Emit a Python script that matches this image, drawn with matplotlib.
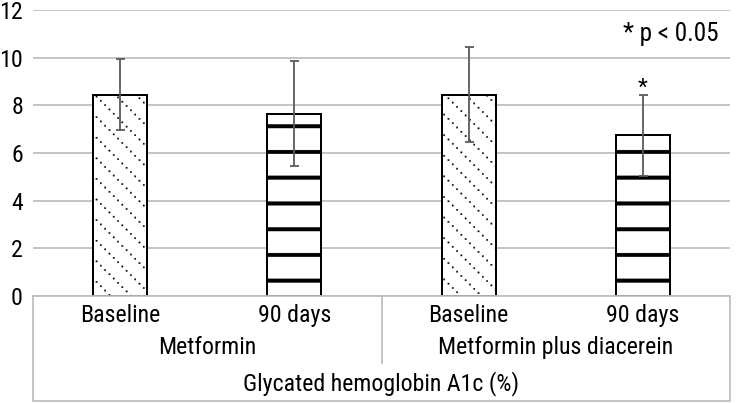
import numpy as np
import matplotlib
matplotlib.use("Agg")
import matplotlib.pyplot as plt
import matplotlib.hatch as mhatch
from matplotlib.path import Path
from matplotlib import font_manager

# ---------------- data ----------------
categories = ["Baseline", "90 days", "Baseline", "90 days"]
groups = ["Metformin", "Metformin plus diacerein"]
axis_title = "Glycated hemoglobin A1c (%)"
means = [8.45, 7.65, 8.45, 6.75]
sds = [1.5, 2.2, 2.0, 1.7]
significant = [False, False, False, True]
yticks = [0, 2, 4, 6, 8, 10, 12]
note = "* p < 0.05"

DPI = 103
def px(v):
    return v * 72.0 / DPI

# ---------------- custom hatch textures ----------------
class StripeHatch(mhatch.HatchPatternBase):
    n = 4
    h = 0.036
    y0 = 0.0248
    def __init__(self, hatch, density):
        self.on = hatch.count('-') > 0
        self.num_vertices = self.n * 5 if self.on else 0
    def set_vertices_and_codes(self, vertices, codes):
        for i in range(self.n):
            yc = self.y0 + i / self.n
            a, b = yc - self.h / 2, yc + self.h / 2
            vertices[i*5:(i+1)*5] = [[-0.1, a], [1.1, a], [1.1, b], [-0.1, b], [-0.1, a]]
            codes[i*5:(i+1)*5] = [Path.MOVETO, Path.LINETO, Path.LINETO, Path.LINETO, Path.CLOSEPOLY]

class DotDiagHatch(mhatch.HatchPatternBase):
    lines = 5
    per = 24
    s = 0.0135
    def __init__(self, hatch, density):
        self.on = hatch.count('\\') > 0
        pts = []
        if self.on:
            for k in range(self.lines):
                for j in range(self.per):
                    x = (j + 0.5) / self.per
                    y = (k / self.lines - x) % 1.0
                    pts.append((x, y))
                    if y < self.s:
                        pts.append((x, y + 1))
                    if y > 1 - self.s:
                        pts.append((x, y - 1))
        self.pts = pts
        self.num_vertices = len(pts) * 5
    def set_vertices_and_codes(self, vertices, codes):
        h = self.s / 2
        for i, (x, y) in enumerate(self.pts):
            vertices[i*5:(i+1)*5] = [[x-h, y-h], [x+h, y-h], [x+h, y+h], [x-h, y+h], [x-h, y-h]]
            codes[i*5:(i+1)*5] = [Path.MOVETO, Path.LINETO, Path.LINETO, Path.LINETO, Path.CLOSEPOLY]

mhatch._hatch_types[:] = [StripeHatch, DotDiagHatch]

# ---------------- fonts ----------------
names = {f.name for f in font_manager.fontManager.ttflist}
fam = "Liberation Sans"
for cand in ["Roboto Condensed", "Liberation Sans Narrow", "Arimo Narrow",
             "PT Sans Narrow", "Archivo Narrow", "Pragati Narrow", "Barlow Condensed"]:
    if cand in names:
        fam = cand
        break
plt.rcParams['font.family'] = [fam, 'DejaVu Sans']
plt.rcParams['hatch.linewidth'] = 0.2

FS = 16.7
grid_c = "#bfbfbf"

fig = plt.figure(figsize=(750 / DPI, 403 / DPI), dpi=DPI)
ax = fig.add_axes([33/750, 107/403, 697/750, 286/403])

x = np.arange(len(categories))
hatches = ['\\', '-', '\\', '-']
bars = ax.bar(x, means, width=0.31, color='white', edgecolor='black',
              linewidth=px(2.0), hatch=hatches, zorder=2)
ax.errorbar(x, means, yerr=sds, fmt='none', ecolor='#5a5a5a',
            elinewidth=px(1.8), capsize=px(4.5), capthick=px(1.8), zorder=3)

for xi, m, s, sig in zip(x, means, sds, significant):
    if sig:
        ax.text(xi, m + s + 0.05, "*", ha='center', va='baseline', fontsize=FS - 1)

ax.set_xlim(-0.5, len(categories) - 0.5)
ax.set_ylim(0, 12)
ax.set_yticks(yticks)
ax.set_yticklabels([str(t) for t in yticks], fontsize=FS)
ax.tick_params(axis='y', length=0, pad=px(10))
ax.set_xticks([])
ax.yaxis.grid(True, color=grid_c, linewidth=px(1.8))
ax.set_axisbelow(True)
for sp in ax.spines.values():
    sp.set_visible(False)

tr = ax.get_xaxis_transform()
# category table
box_bottom = -0.366
ax.plot([-0.5, 3.5, 3.5, -0.5, -0.5], [0, 0, box_bottom, box_bottom, 0],
        transform=tr, color=grid_c, lw=px(1.8), clip_on=False)
ax.plot([1.5, 1.5], [0, -0.234], transform=tr, color=grid_c, lw=px(1.8), clip_on=False)

for xi, c in zip(x, categories):
    ax.text(xi, -0.0899, c, transform=tr, ha='center', va='baseline', fontsize=FS)
for gi, g in enumerate(groups):
    ax.text(2 * gi + 0.5, -0.2028, g, transform=tr, ha='center', va='baseline', fontsize=FS)
ax.text(1.5, -0.332, axis_title, transform=tr, ha='center', va='baseline', fontsize=FS)

ax.text(0.915, 0.915, note, transform=ax.transAxes, ha='center', va='center', fontsize=FS + 1)

fig.savefig("out.png", dpi=DPI)
